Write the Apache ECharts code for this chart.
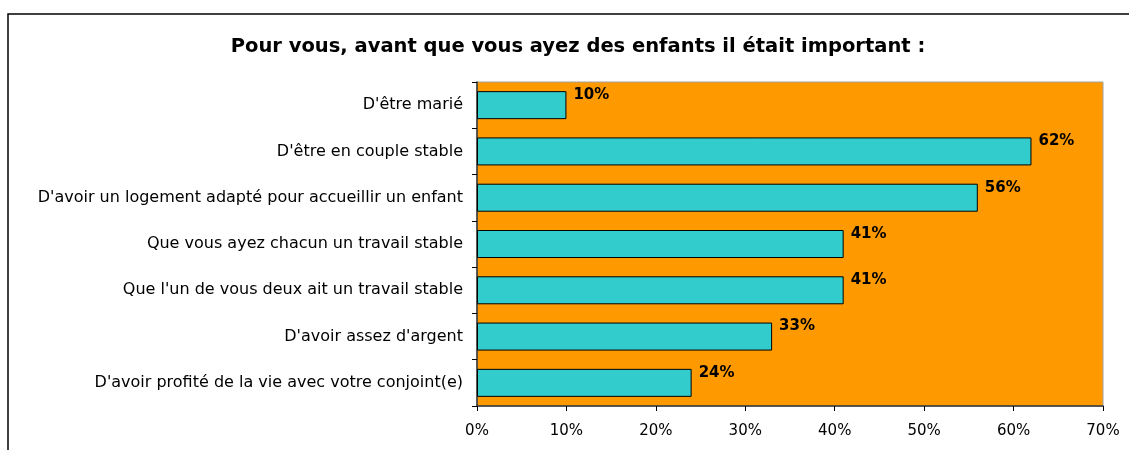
<!DOCTYPE html>
<html>
<head>
<meta charset="utf-8">
<script src="https://cdn.jsdelivr.net/npm/echarts@6/dist/echarts.min.js"></script>
<style>
  html, body { margin: 0; padding: 0; background: #fff; }
  #chart { width: 1129px; height: 450px; }
</style>
</head>
<body>
<div id="chart"></div>
<script>
// data
const categories = [
    "D'être marié",
    "D'être en couple stable",
    "D'avoir un logement adapté pour accueillir un enfant",
    "Que vous ayez chacun un travail stable",
    "Que l'un de vous deux ait un travail stable",
    "D'avoir assez d'argent",
    "D'avoir profité de la vie avec votre conjoint(e)"
];
const values = [10, 62, 56, 41, 41, 33, 24];
const xTicks = [0, 10, 20, 30, 40, 50, 60, 70];

const chart = echarts.init(document.getElementById('chart'));
chart.setOption({
    animation: false,
    textStyle: { fontFamily: 'DejaVu Sans, Verdana, sans-serif' },
    title: {
        text: 'Pour vous, avant que vous ayez des enfants il était important :',
        left: 573,
        textAlign: 'center',
        top: 32,
        textStyle: { fontSize: 19.5, fontWeight: 'bold', color: '#000', fontFamily: 'DejaVu Sans' }
    },
    graphic: [{
        type: 'rect',
        shape: { x: 8, y: 14, width: 1200, height: 500 },
        style: { fill: 'none', stroke: '#000', lineWidth: 1.5 },
        silent: true
    }],
    grid: {
        left: 477, right: 26, top: 82, bottom: 44,
        show: true,
        backgroundColor: '#FF9900',
        borderColor: '#A0A0A0',
        borderWidth: 1
    },
    xAxis: {
        type: 'value',
        min: xTicks[0],
        max: xTicks[xTicks.length - 1],
        interval: 10,
        splitLine: { show: false },
        axisLine: { show: true, lineStyle: { color: '#333', width: 1.5 } },
        axisTick: { show: true, length: 5, lineStyle: { color: '#000' } },
        axisLabel: {
            margin: 18,
            fontSize: 15,
            color: '#000',
            fontFamily: 'DejaVu Sans',
            formatter: v => v + '%'
        }
    },
    yAxis: {
        type: 'category',
        data: categories,
        inverse: true,
        axisLine: { show: true, lineStyle: { color: '#333', width: 1.5 } },
        axisTick: { show: true, length: 5, lineStyle: { color: '#000' } },
        axisLabel: { margin: 14, fontSize: 16, color: '#000', fontFamily: 'DejaVu Sans' }
    },
    series: [{
        type: 'bar',
        data: values,
        barWidth: 28,
        itemStyle: { color: '#33CCCC', borderColor: '#000', borderWidth: 1 },
        label: {
            show: true,
            position: 'right',
            distance: 7,
            offset: [0, -10],
            fontSize: 15,
            fontWeight: 'bold',
            color: '#000',
            fontFamily: 'DejaVu Sans',
            formatter: p => p.value + '%'
        }
    }]
});
</script>
</body>
</html>
